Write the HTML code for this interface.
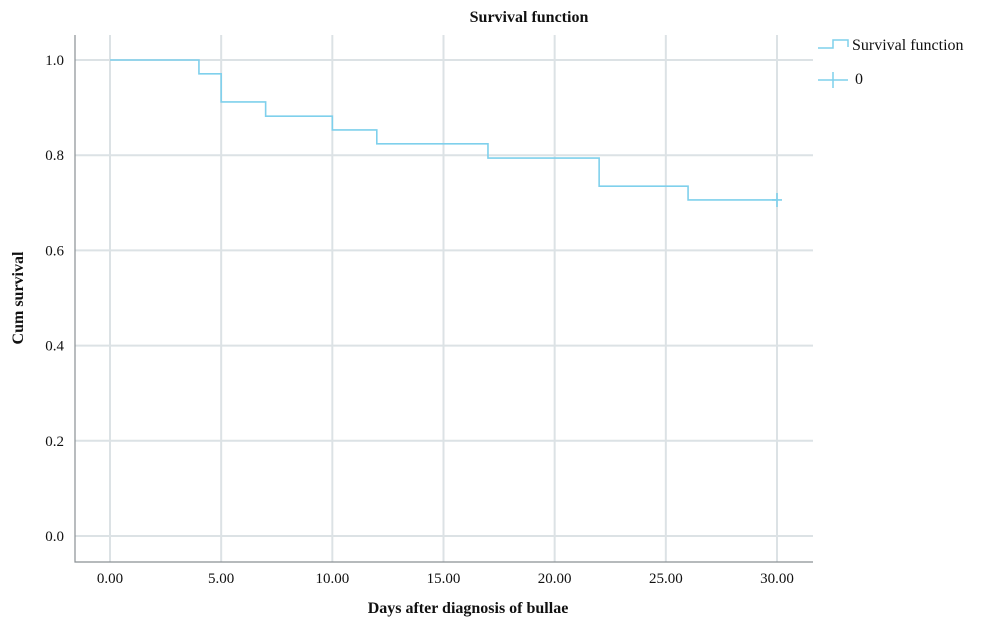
<!DOCTYPE html>
<html><head><meta charset="utf-8"><style>
body{margin:0;background:#fff;}
svg text{font-family:"Liberation Serif",serif;fill:#111;}
</style></head><body>
<svg width="1000" height="625" id="chart">
<rect width="1000" height="625" fill="#fff"/>
<text x="529" y="22" text-anchor="middle" font-weight="bold" font-size="16">Survival function</text>
<g id="grid"></g>
<g id="axes"></g>
<g id="series"></g>
<text x="468" y="613" text-anchor="middle" font-weight="bold" font-size="16">Days after diagnosis of bullae</text>
<text transform="translate(23,298) rotate(-90)" text-anchor="middle" font-weight="bold" font-size="16">Cum survival</text>
<g>
<path d="M818 48 H833 V40 H848 V47" fill="none" stroke="#7fd0ec" stroke-width="1.5"/>
<text x="852" y="50" font-size="16">Survival function</text>
<path d="M818 80 H848 M833 72 V88" stroke="#7fd0ec" stroke-width="1.5"/>
<text x="855" y="84" font-size="16">0</text>
</g>
</svg>
<script>
const xTicks=[0,5,10,15,20,25,30];
const xTickLabels=["0.00","5.00","10.00","15.00","20.00","25.00","30.00"];
const yTicks=[0,0.2,0.4,0.6,0.8,1.0];
const yTickLabels=["0.0","0.2","0.4","0.6","0.8","1.0"];
const stepTimes=[0,4,5,7,10,12,17,22,26];
const stepSurvival=[1.0,0.971,0.912,0.882,0.853,0.824,0.794,0.735,0.706];
const endTime=30;
const censorTimes=[30];
const censorSurvival=[0.706];
const X=v=>110+v*(777-110)/30;
const Y=v=>536-v*(536-60);
const NS="http://www.w3.org/2000/svg";
function mk(tag,attrs,parent){const e=document.createElementNS(NS,tag);for(const k in attrs)e.setAttribute(k,attrs[k]);document.getElementById(parent).appendChild(e);return e;}
xTicks.forEach((t,i)=>{
 const l=mk('line',{x1:X(t),x2:X(t),y1:35,y2:562,stroke:'#dce2e5','stroke-width':2},'grid');
 
 
 const tx=mk('text',{x:X(t),y:583,'text-anchor':'middle','font-size':15},'axes');tx.textContent=xTickLabels[i];
 
 
});
yTicks.forEach((t,i)=>{
 const l=mk('line',{x1:75,x2:813,y1:Y(t),y2:Y(t),stroke:'#dce2e5','stroke-width':2},'grid');
 
 
 const tx=mk('text',{x:64,y:Y(t)+5,'text-anchor':'end','font-size':15},'axes');tx.textContent=yTickLabels[i];
 
 
});
const ax=mk('path',{d:'M75 35 V562 H813',fill:'none',stroke:'#8a9094','stroke-width':1.2},'axes');


let d='M'+X(stepTimes[0])+' '+Y(stepSurvival[0]);
for(let i=1;i<stepTimes.length;i++){d+=' H'+X(stepTimes[i])+' V'+Y(stepSurvival[i]);}
d+=' H'+X(endTime);
const p=mk('path',{d:d,fill:'none',stroke:'#7fd0ec','stroke-width':1.6},'series');


censorTimes.forEach((t,i)=>{
 const c=mk('path',{d:`M${X(t)-5} ${Y(censorSurvival[i])} H${X(t)+5} M${X(t)} ${Y(censorSurvival[i])-7} V${Y(censorSurvival[i])+7}`,stroke:'#7fd0ec','stroke-width':1.6},'series');
 
 
});
</script>
</body></html>
